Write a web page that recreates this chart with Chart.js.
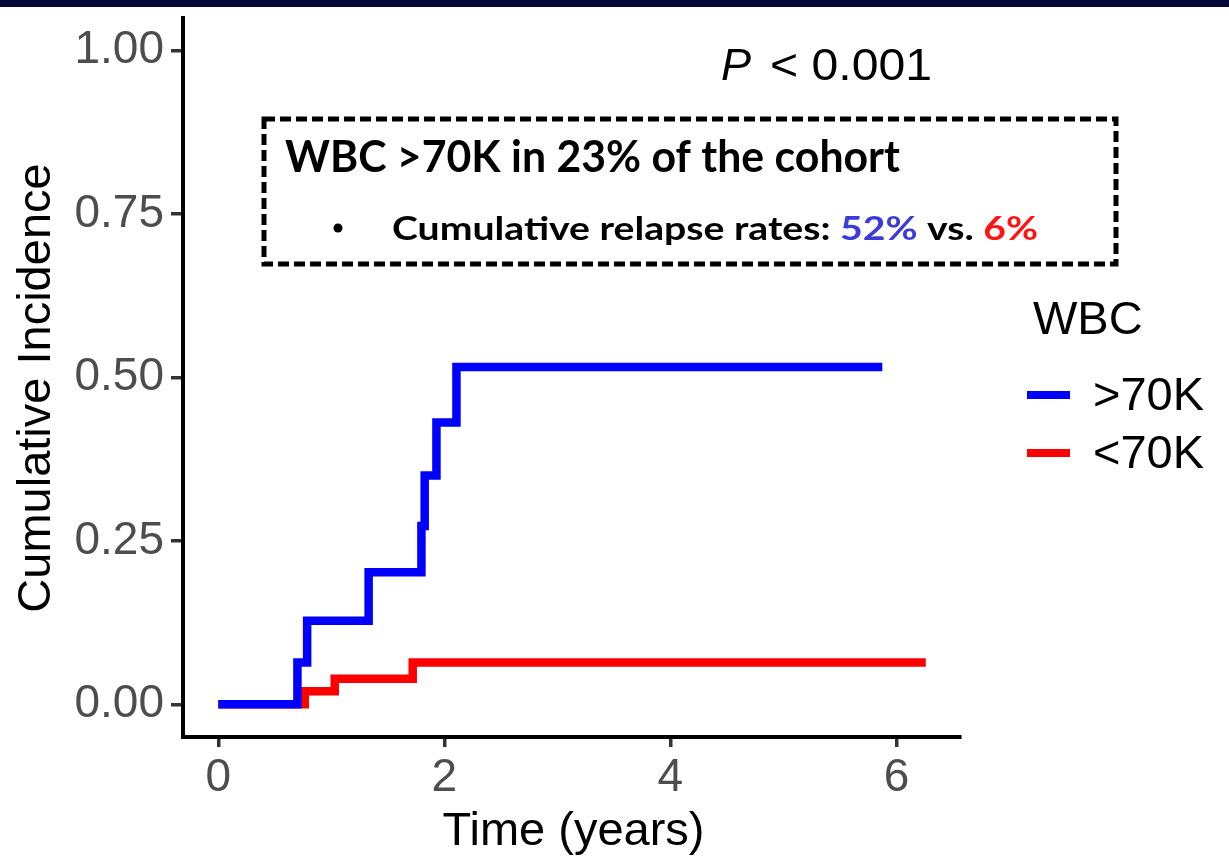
<!DOCTYPE html>
<html>
<head>
<meta charset="utf-8">
<script src="https://cdn.jsdelivr.net/npm/chart.js@4/dist/chart.umd.min.js"></script>
<style>
  html, body { margin: 0; padding: 0; background: #ffffff; }
  canvas { display: block; }
</style>
</head>
<body>
<canvas id="c" width="1229" height="864"></canvas>
<script>
// ---- data ----
const seriesLabels = ['>70K', '<70K'];
const seriesColors = ['#0000ff', '#ff0000'];
const highTimes  = [0, 0.70, 0.786, 1.33, 1.797, 1.826, 1.93, 2.107, 5.875];
const highValues = [0, 0.064, 0.128, 0.202, 0.273, 0.350, 0.431, 0.516, 0.516];
const lowTimes   = [0, 0.765, 1.03, 1.72, 6.26];
const lowValues  = [0, 0.020, 0.039, 0.064, 0.064];
const xTicks = [0, 2, 4, 6];
const yTicks = [0, 0.25, 0.50, 0.75, 1.00];
const legendTitle = 'WBC';
const pText = '< 0.001';
const boxTitle = 'WBC >70K in 23% of the cohort';
const boxLine = [
  { text: 'Cumulative relapse rates: ', color: '#000000' },
  { text: '52%', color: '#3c3cd8' },
  { text: ' vs. ', color: '#000000' },
  { text: '6%', color: '#ff1414' }
];

const toPts = (ts, vs) => ts.map((t, i) => ({ x: t, y: vs[i] }));

const SANS = '"Liberation Sans", Arial, sans-serif';
const BOXFONT = 'Lato, "Open Sans", sans-serif';

function fitText(ctx, segs, x, baseline, width, font) {
  ctx.save();
  ctx.font = font;
  let total = 0;
  segs.forEach(s => total += ctx.measureText(s.text).width);
  const k = width / total;
  ctx.translate(x, baseline);
  ctx.scale(k, 1);
  ctx.textAlign = 'left';
  ctx.textBaseline = 'alphabetic';
  let cx = 0;
  segs.forEach(s => {
    ctx.fillStyle = s.color;
    ctx.fillText(s.text, cx, 0);
    cx += ctx.measureText(s.text).width;
  });
  ctx.restore();
}

const decor = {
  id: 'decor',
  beforeDraw(chart) {
    const ctx = chart.ctx;
    ctx.save();
    ctx.fillStyle = '#ffffff';
    ctx.fillRect(0, 0, chart.width, chart.height);
    ctx.fillStyle = '#07073c';
    ctx.fillRect(0, 0, chart.width, 7);
    ctx.restore();
  },
  afterDraw(chart) {
    const ctx = chart.ctx;
    const area = chart.chartArea;
    ctx.save();
    // axis titles
    ctx.fillStyle = '#000000';
    ctx.font = '47px ' + SANS;
    ctx.textAlign = 'center';
    ctx.textBaseline = 'alphabetic';
    ctx.fillText('Time (years)', (area.left + area.right) / 2 + 2, 845);
    ctx.save();
    ctx.translate(50, 388);
    ctx.rotate(-Math.PI / 2);
    ctx.fillText('Cumulative Incidence', 0, 0);
    ctx.restore();

    // P value
    ctx.textAlign = 'left';
    ctx.font = 'italic 45px ' + SANS;
    ctx.fillText('P', 721, 80);
    ctx.font = '45px ' + SANS;
    ctx.textAlign = 'right';
    fitText(ctx, [{ text: pText, color: '#000000' }], 770, 80, 162, '45px ' + SANS);

    // dashed box
    ctx.strokeStyle = '#000000';
    ctx.lineWidth = 5;
    ctx.setLineDash([11, 5]);
    ctx.strokeRect(264, 119, 852, 145);
    ctx.setLineDash([]);
    fitText(ctx, [{ text: boxTitle, color: '#000000' }], 285, 172, 615, 'bold 43px ' + BOXFONT);
    ctx.fillStyle = '#000000';
    ctx.beginPath();
    ctx.arc(338, 228, 4.5, 0, Math.PI * 2);
    ctx.fill();
    fitText(ctx, boxLine, 392, 240, 646, 'bold 33px ' + BOXFONT);

    // legend
    ctx.fillStyle = '#000000';
    ctx.textAlign = 'left';
    ctx.textBaseline = 'alphabetic';
    ctx.font = '47px ' + SANS;
    ctx.fillText(legendTitle, 1033, 334);
    const rows = [395, 453];
    chart.data.datasets.forEach((ds, i) => {
      ctx.strokeStyle = ds.borderColor;
      ctx.lineWidth = 8;
      ctx.beginPath();
      ctx.moveTo(1027, rows[i]);
      ctx.lineTo(1070, rows[i]);
      ctx.stroke();
      ctx.fillStyle = '#000000';
      ctx.font = '47px ' + SANS;
      ctx.textBaseline = 'middle';
      ctx.fillText(ds.label, 1093, rows[i] + 2);
    });
    ctx.restore();
  }
};

new Chart(document.getElementById('c'), {
  type: 'line',
  data: {
    datasets: [
      { label: seriesLabels[0], data: toPts(highTimes, highValues), borderColor: seriesColors[0] },
      { label: seriesLabels[1], data: toPts(lowTimes, lowValues), borderColor: seriesColors[1] }
    ].map(d => Object.assign(d, {
      stepped: 'before', pointRadius: 0, borderWidth: 8.5, fill: false,
      borderCapStyle: 'butt', borderJoinStyle: 'miter', tension: 0
    }))
  },
  options: {
    responsive: false,
    animation: false,
    events: [],
    layout: { padding: { top: 18, right: 269, left: 0, bottom: 0 } },
    plugins: { legend: { display: false }, tooltip: { enabled: false }, title: { display: false } },
    scales: {
      x: {
        type: 'linear', min: -0.3125, max: 6.5625,
        afterBuildTicks: s => { s.ticks = xTicks.map(v => ({ value: v })); },
        afterFit: s => { s.height = 127; s.paddingLeft = 0; s.paddingRight = 0; },
        ticks: { font: { family: SANS, size: 46 }, color: '#4d4d4d', padding: 4, maxRotation: 0,
                 callback: v => String(v) },
        grid: { display: true, drawOnChartArea: false, drawTicks: true, tickLength: 10, color: '#333333', lineWidth: 3.5 },
        border: { display: true, color: '#000000', width: 4 }
      },
      y: {
        type: 'linear', min: -0.05, max: 1.05,
        afterBuildTicks: s => { s.ticks = yTicks.map(v => ({ value: v })); },
        afterFit: s => { s.width = 183; s.paddingTop = 0; s.paddingBottom = 0; },
        ticks: { font: { family: SANS, size: 46 }, color: '#4d4d4d', padding: 7,
                 callback: v => Number(v).toFixed(2) },
        grid: { display: true, drawOnChartArea: false, drawTicks: true, tickLength: 12, color: '#333333', lineWidth: 3.5 },
        border: { display: true, color: '#000000', width: 4 }
      }
    }
  },
  plugins: [decor]
});
</script>
</body>
</html>
